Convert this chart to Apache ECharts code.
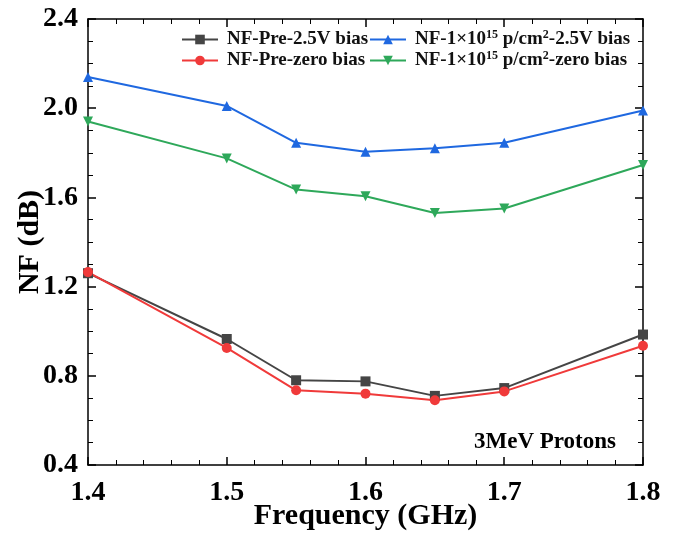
<!DOCTYPE html>
<html>
<head>
<meta charset="utf-8">
<script src="https://cdn.jsdelivr.net/npm/echarts@6/dist/echarts.min.js"></script>
<style>
	html, body { margin: 0; padding: 0; background: #fff; }
	#chart { width: 678px; height: 533px; }
</style>
</head>
<body>
<div id="chart"></div>
<script>
var freq = [1.4, 1.5, 1.55, 1.6, 1.65, 1.7, 1.8];
var preBias = [1.26, 0.965, 0.78, 0.775, 0.71, 0.745, 0.985];
var preZero = [1.265, 0.925, 0.735, 0.72, 0.69, 0.73, 0.935];
var irrBias = [2.14, 2.01, 1.845, 1.805, 1.82, 1.845, 1.99];
var irrZero = [1.94, 1.775, 1.635, 1.605, 1.53, 1.55, 1.745];

var names = ['NF-Pre-2.5V bias', 'NF-Pre-zero bias', 'NF-1e15-2.5V bias', 'NF-1e15-zero bias'];
var labels = {
	'NF-Pre-2.5V bias': 'NF-Pre-2.5V bias',
	'NF-Pre-zero bias': 'NF-Pre-zero bias',
	'NF-1e15-2.5V bias': 'NF-1×10{sup|15} p/cm{sup|2}-2.5V bias',
	'NF-1e15-zero bias': 'NF-1×10{sup|15} p/cm{sup|2}-zero bias'
};

var font = 'Liberation Serif, Times New Roman, serif';

function pairs(ys) {
	return freq.map(function(x, i) {
		return [x, ys[i]];
	});
}

function makeSeries(name, ys, color, symbol, rotate) {
	return {
		name: name,
		type: 'line',
		data: pairs(ys),
		symbol: symbol,
		symbolSize: 10,
		symbolRotate: rotate || 0,
		lineStyle: { color: color, width: 2 },
		itemStyle: { color: color },
		z: 3
	};
}

function legendBox(data, left) {
	return {
		data: data,
		orient: 'vertical',
		left: left,
		top: 29,
		padding: 0,
		itemGap: 0,
		itemWidth: 36,
		itemHeight: 12,
		formatter: function(n) { return labels[n]; },
		textStyle: {
			fontFamily: font,
			fontWeight: 'bold',
			fontSize: 19,
			lineHeight: 21,
			color: '#111',
			padding: [0, 0, 0, 4],
			rich: {
				sup: { fontSize: 12, fontWeight: 'bold', fontFamily: font, lineHeight: 12, verticalAlign: 'top', padding: [0, 0, 8, 0] }
			}
		}
	};
}

function axisBase() {
	return {
		axisLine: { show: true, onZero: false, lineStyle: { color: '#000', width: 1.5 } },
		axisTick: { show: true, inside: true, length: 8, lineStyle: { color: '#000', width: 1.5 } },
		minorTick: { show: true, length: 5, lineStyle: { color: '#000', width: 1 } },
		splitLine: { show: false }
	};
}

var xMain = Object.assign(axisBase(), {
	type: 'value', min: 1.4, max: 1.8, interval: 0.1, position: 'bottom',
	name: 'Frequency (GHz)', nameLocation: 'middle', nameGap: 36, nameMoveOverlap: false,
	nameTextStyle: { fontFamily: font, fontWeight: 'bold', fontSize: 30, color: '#000' },
	axisLabel: { fontFamily: font, fontWeight: 'bold', fontSize: 28, color: '#000', margin: 14,
		formatter: function(v) { return v.toFixed(1); } }
});
xMain.minorTick.splitNumber = 5;
var xTop = Object.assign(axisBase(), {
	type: 'value', min: 1.4, max: 1.8, interval: 0.1, position: 'top', axisLabel: { show: false }
});
xTop.minorTick.splitNumber = 5;

var yMain = Object.assign(axisBase(), {
	type: 'value', min: 0.4, max: 2.4, interval: 0.4, position: 'left',
	name: 'NF (dB)', nameLocation: 'middle', nameGap: 43, nameRotate: 90, nameMoveOverlap: false,
	nameTextStyle: { fontFamily: font, fontWeight: 'bold', fontSize: 30, color: '#000' },
	axisLabel: { fontFamily: font, fontWeight: 'bold', fontSize: 28, color: '#000', margin: 10,
		formatter: function(v) { return v.toFixed(1); } }
});
yMain.minorTick.splitNumber = 4;
var yRight = Object.assign(axisBase(), {
	type: 'value', min: 0.4, max: 2.4, interval: 0.4, position: 'right', axisLabel: { show: false }
});
yRight.minorTick.splitNumber = 4;

var chart = echarts.init(document.getElementById('chart'));
chart.setOption({
	animation: false,
	backgroundColor: '#fff',
	grid: { left: 88, right: 35, top: 19, bottom: 68, outerBoundsMode: 'none' },
	legend: [
		legendBox([names[0], names[1]], 181),
		legendBox([names[2], names[3]], 369)
	],
	xAxis: [xMain, xTop],
	yAxis: [yMain, yRight],
	graphic: [{
		type: 'text',
		right: 62,
		top: 431,
		style: { text: '3MeV Protons', font: 'bold 23px ' + font, fill: '#000' }
	}],
	series: [
		makeSeries(names[0], preBias, '#454545', 'rect'),
		makeSeries(names[1], preZero, '#f03a3a', 'circle'),
		makeSeries(names[2], irrBias, '#1f68e0', 'triangle'),
		makeSeries(names[3], irrZero, '#2ea85a', 'triangle', 180)
	]
});
</script>
</body>
</html>
